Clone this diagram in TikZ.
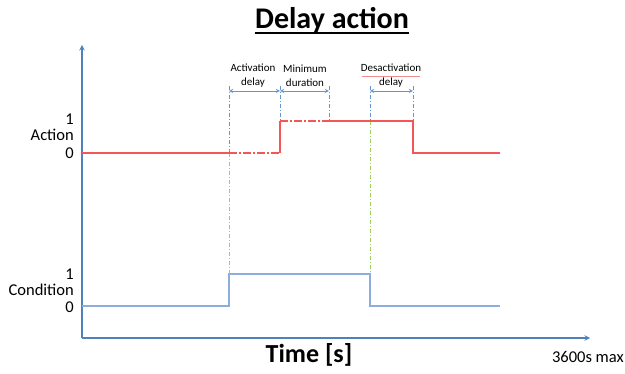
\documentclass[tikz,border=0pt]{standalone}
\usepackage{fontspec}
\setmainfont{Carlito}
\usetikzlibrary{calc}

\definecolor{axisblue}{RGB}{79,129,189}
\definecolor{condblue}{RGB}{142,172,220}
\definecolor{actred}{RGB}{245,85,85}
\definecolor{guidegreen}{RGB}{160,210,90}
\definecolor{guideblue}{RGB}{100,150,210}
\definecolor{spellred}{RGB}{240,140,140}

\begin{document}
\begin{tikzpicture}[>=stealth, x=1pt, y=-1pt,
  axis/.style={->, axisblue, line width=1.4pt},
  guide/.style={guideblue, line width=0.6pt, dash pattern=on 4pt off 2pt on 1pt off 2pt},
  guidecond/.style={guidegreen, line width=0.6pt, dash pattern=on 4pt off 2pt on 1pt off 2pt},
  span/.style={<->, guideblue, line width=0.9pt},
  actline/.style={actred, line width=1.3pt},
  actdash/.style={actline, dash pattern=on 8pt off 2pt on 2pt off 2pt},
  condline/.style={condblue, line width=1.4pt},
  lbl/.style={font=\fontsize{11}{14}\selectfont, align=center, inner sep=0pt},
  level/.style={font=\fontsize{16.5}{18}\selectfont, anchor=east, inner sep=0pt}]
  \useasboundingbox (0,0) rectangle (625,374);

  % Axes
  \coordinate (O) at (82,338);
  \coordinate (yend) at (82,45);
  \coordinate (xend) at (590,338);
  \draw[axis] (O) -- (yend);
  \draw[axis] (O) -- (xend);

  % Time marks and levels
  \foreach \n/\x in {ton/229, amin/280, aend/329, toff/370, aoff/413, tend/500}
    \coordinate (\n) at (\x,0);
  \foreach \n/\y in {lvlA0/153, lvlA1/121, lvlC0/306, lvlC1/274, guidetop/86, spanrow/91}
    \coordinate (\n) at (0,\y);

  % Title
  \node[font=\fontsize{30}{34}\selectfont\bfseries] (title) at (332,20) {Delay action};
  \draw[line width=1.6pt] ($(title.base west)+(3,5)$) -- ($(title.base east)+(-3,5)$);

  % Level labels
  \node[level] (act1) at (74,119) {1};
  \node[level] (actname) at (74,135) {Action};
  \node[level] (act0) at (74,153) {0};
  \node[level] (cond1) at (74,274) {1};
  \node[level] (condname) at (74,290) {Condition};
  \node[level] (cond0) at (74,307) {0};

  % Axis labels
  \node[font=\fontsize{26}{30}\selectfont\bfseries] (time) at (309,355) {Time [s]};
  \node[font=\fontsize{16.5}{18}\selectfont, anchor=east, inner sep=0pt] (tmax) at (624,357) {3600s max};

  % Guide lines
  \draw[guidecond] (ton |- lvlA0) -- (ton |- lvlC1);
  \draw[guidecond] (toff |- lvlA1) -- (toff |- lvlC1);
  \draw[guide] (ton |- guidetop) -- (ton |- lvlA0);
  \foreach \t in {amin, aend, toff, aoff}
    \draw[guide] (\t |- guidetop) -- (\t |- lvlA1);

  % Delay spans
  \draw[span] (ton |- spanrow) -- (amin |- spanrow);
  \draw[span] (amin |- spanrow) -- (aend |- spanrow);
  \draw[span] (toff |- spanrow) -- (aoff |- spanrow);
  \node[lbl] (actdelay) at (253,76) {Activation\\delay};
  \node[lbl] (minduration) at (305,76) {Minimum\\duration};
  \node[lbl] (deactdelay) at (391,76) {Desactivation\\delay};
  \draw[spellred, line width=0.6pt] ($(deactdelay.north west)+(1,12.5)$) -- ($(deactdelay.north east)+(-1,12.5)$);

  % Action signal
  \draw[actline] (O |- lvlA0) -- (ton |- lvlA0);
  \draw[actdash] (ton |- lvlA0) -- (amin |- lvlA0);
  \draw[actline] (amin |- lvlA0) -- (amin |- lvlA1);
  \draw[actdash] (amin |- lvlA1) -- (aend |- lvlA1);
  \draw[actline] (aend |- lvlA1) -- (aoff |- lvlA1) -- (aoff |- lvlA0) -- (tend |- lvlA0);

  % Condition signal
  \draw[condline] (O |- lvlC0) -- (ton |- lvlC0) -- (ton |- lvlC1)
    -- (toff |- lvlC1) -- (toff |- lvlC0) -- (tend |- lvlC0);
\end{tikzpicture}
\end{document}
